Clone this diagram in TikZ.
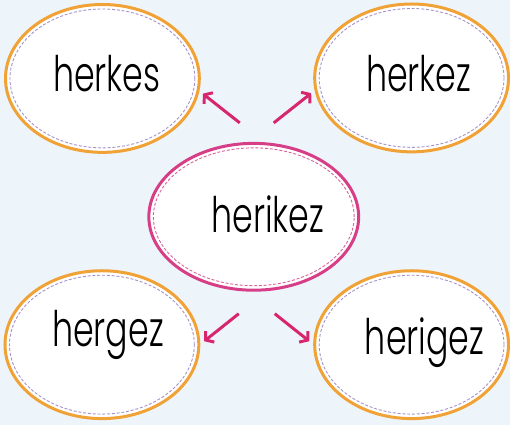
\documentclass[tikz,border=0pt]{standalone}
\usepackage{fontspec}
\setmainfont{Poppins Light}
\usetikzlibrary{arrows.meta,calc,shapes.geometric}
\definecolor{bgblue}{HTML}{EEF5FA}
\definecolor{ringorange}{HTML}{F0A236}
\definecolor{ringpink}{HTML}{D63F88}
\definecolor{arrowpink}{HTML}{D8266E}
\definecolor{stitchlav}{HTML}{A592C8}
\definecolor{stitchpink}{HTML}{D8629C}
\newcommand{\wordtext}[1]{\scalebox{0.68}[1]{#1}}

\begin{document}
\begin{tikzpicture}[x=1pt,y=-1pt,
  ring/.style={ellipse, draw=ringorange, line width=3pt, fill=white,
    minimum width=194pt, minimum height=148pt, inner sep=0pt,
    path picture={\draw[stitchlav, line width=0.9pt, dash pattern=on 3pt off 1.8pt]
      let \p1=($(path picture bounding box.north east)-(path picture bounding box.center)$)
      in (path picture bounding box.center) ellipse [x radius=\x1-4.5pt, y radius=\y1-4.5pt];}},
  midring/.style={ring, draw=ringpink, minimum width=210pt, minimum height=147pt,
    path picture={\draw[stitchpink, line width=0.9pt, dash pattern=on 3pt off 1.8pt]
      let \p1=($(path picture bounding box.north east)-(path picture bounding box.center)$)
      in (path picture bounding box.center) ellipse [x radius=\x1-4.5pt, y radius=\y1-4.5pt];}},
  word/.style={anchor=base, inner sep=0pt, font=\fontsize{49}{60}\selectfont},
  arr/.style={arrowpink, line width=3pt, -{Straight Barb[length=5.5pt,width=14pt]}}]
% background
\fill[bgblue] (0,0) rectangle (510,425);

% the five rings
\node[ring] (tl) at (102.5,78.5) {};
\node[ring] (tr) at (412,78) {};
\node[midring] (mid) at (254,217) {};
\node[ring] (bl) at (102,345) {};
\node[ring] (br) at (412,345) {};

% words
\node[word] (herkes) at (107,92) {\wordtext{herkes}};
\node[word] (herkez) at (419,92) {\wordtext{herkez}};
\node[word] (herikez) at (268,233) {\wordtext{herikez}};
\node[word] (hergez) at (108,347) {\wordtext{hergez}};
\node[word] (herigez) at (425,355) {\wordtext{herigez}};

% arrows out of the middle
\coordinate (s1) at (240,123);
\coordinate (s2) at (274,123);
\coordinate (s3) at (239,314);
\coordinate (s4) at (275,314);
\draw[arr] (s1) -- ([xshift=4pt]tl.-9);
\draw[arr] (s2) -- ([xshift=-4pt]tr.189);
\draw[arr] (s3) -- ([xshift=4pt]bl.2);
\draw[arr] (s4) -- ([xshift=-4pt]br.178);
\end{tikzpicture}
\end{document}
